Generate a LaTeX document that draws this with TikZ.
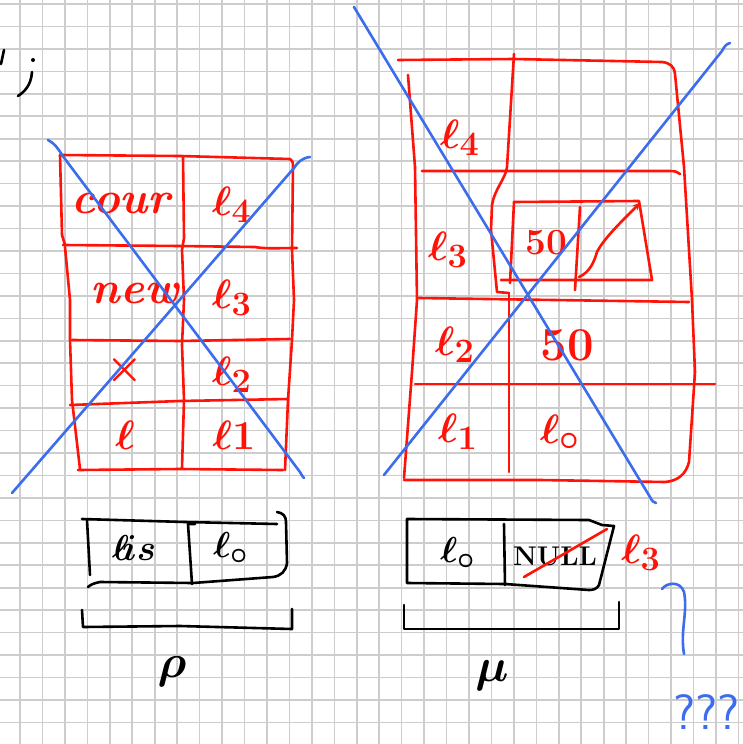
\documentclass[tikz,border=0pt]{standalone}
\usetikzlibrary{arrows.meta}
\definecolor{gridc}{HTML}{CDCDCD}
\definecolor{pred}{HTML}{FF1208}
\definecolor{pblue}{HTML}{3C6DEC}
\tikzset{
 gridline/.style={gridc, line width=1.6pt},
 redink/.style={pred, line width=2.6pt, line cap=round, line join=round},
 blueink/.style={pblue, line width=2.6pt, line cap=round, line join=round},
 blackink/.style={black, line width=2.6pt, line cap=round, line join=round},
 rtxt/.style={text=pred, font=\fontsize{24.88}{27}\selectfont\bfseries\boldmath, inner sep=0pt, scale=1.65},
 ktxt/.style={text=black, font=\fontsize{24.88}{27}\selectfont\bfseries\boldmath, inner sep=0pt, scale=1.45},
 btxt/.style={text=pblue, font=\fontsize{24.88}{27}\selectfont\sffamily, inner sep=0pt, scale=2.0},
}
\begin{document}
\begin{tikzpicture}[x=1pt,y=-1pt]
\useasboundingbox (0,0) rectangle (743,744);
\fill[white] (0,0) rectangle (743,744);
\foreach \i in {0,...,33} \draw[gridline] ({-2.45+22.45*\i},0) -- ++(0,744);
\foreach \j in {0,...,33} \draw[gridline] (0,{4+22.45*\j}) -- ++(743,0);

% top-left code fragment
\draw[blackink] (4,50) -- (1,64);
\fill (33,60) circle (2pt);
\draw[blackink] (32,72) .. controls (31,86) and (24,92) .. (18,96);

% ---------- left table ----------
\draw[redink] (60,155) -- (180,156) -- (290,159) .. controls (292,160) and (293,162) .. (293,166)
  -- (292,250) -- (294,300) -- (292,340) -- (288,400) -- (285,470);
\draw[redink] (60,155) -- (62,235) -- (65,245);
\draw[redink] (63,245) -- (180,246) -- (255,247) .. controls (265,249) and (280,248) .. (297,248);
\draw[redink] (65,247) -- (70,300) -- (70,340) -- (72,400) -- (80,469);
\draw[redink] (72,340) -- (180,341) -- (290,339);
\draw[redink] (70,405) -- (180,401) -- (288,399);
\draw[redink] (78,470) -- (180,469) -- (283,470);
\draw[redink] (183,156) -- (184,238) -- (182,250) -- (184,300) -- (182,345) -- (184,400) -- (182,468);

\node[rtxt, scale=1.1] (cour) at (121,203) {\itshape cour};
\node[rtxt] (la4) at (232,205) {$\ell_4$};
\node[rtxt, scale=1.1] (new) at (135,293) {\itshape new};
\node[rtxt] (la3) at (232,298) {$\ell_3$};
\node[rtxt] (x) at (125,370) {$\times$};
\node[rtxt] (la2) at (232,375) {$\ell_2$};
\node[rtxt] (ll) at (125,435) {$\ell$};
\node[rtxt] (la1) at (234,435) {$\ell1$};

\draw[blueink] (48,140) .. controls (54,143) and (58,148) .. (62,155) -- (300,472) .. controls (302,476) and (304,478) .. (304,478);
\draw[blueink] (310,157) .. controls (302,158) and (298,162) .. (294,168) -- (12,493);

% ---------- right table ----------
\draw[redink] (398,60) -- (514,59) -- (662,62) .. controls (670,63) and (674,66) .. (675,74)
  -- (684,167) -- (692,300) -- (695,372) -- (689,462) .. controls (686,474) and (678,481) .. (665,482)
  -- (540,480) -- (404,480);
\draw[redink] (408,75) -- (415,167) -- (417,300) -- (412,372) -- (404,478);
\draw[redink] (422,171) -- (670,171) .. controls (675,171) and (678,172) .. (680,174);
\draw[redink] (419,298) -- (689,302);
\draw[redink] (415,384) -- (715,384);
\draw[redink] (514,54) -- (507,167) .. controls (506,178) and (494,190) .. (492,205) -- (491,230) -- (497,292) -- (509,293);
\draw[redink] (509,293) -- (509,372) -- (509,472);
% inner record
\draw[redink] (514,202) -- (639,201) -- (652,280) -- (501,280);
\draw[redink] (514,202) -- (510,283);
\draw[redink] (580,207) -- (575,290);
\draw[redink, -{Stealth[length=7pt,width=7pt]}] (579,277) .. controls (590,272) and (594,262) .. (597,252) .. controls (604,238) and (625,218) .. (640,203);

\node[rtxt] (ra4) at (460,138) {$\ell_4$};
\node[rtxt, scale=0.9] (r50a) at (546,243) {50};
\node[rtxt] (ra3) at (448,250) {$\ell_3$};
\node[rtxt] (ra2) at (455,345) {$\ell_2$};
\node[rtxt, scale=1.15] (r50b) at (567,345) {50};
\node[rtxt] (ra1) at (458,432) {$\ell_1$};
\node[rtxt] (ra0) at (560,432) {$\ell_{\circ}$};

\draw[blueink] (354,7) -- (650,497) .. controls (652,501) and (654,503) .. (656,503);
\draw[blueink] (730,43) .. controls (726,44) and (724,47) .. (722,51) -- (384,475);

% ---------- bottom left record ----------
\draw[blackink] (82,519) -- (185,522) -- (277,524);
\draw[blackink] (277,512) .. controls (283,513) and (286,516) .. (286,522) -- (287,563) .. controls (286,571) and (281,576) .. (273,577) -- (193,583) -- (100,582) .. controls (94,583) and (90,585) .. (88,587);
\draw[blackink] (87,520) -- (90,575);
\draw[blackink] (195,524) -- (188,524) -- (192,584);
\node[ktxt] (lis) at (134,548) {$\ell\!is$};
\node[ktxt] (lo1) at (231,548) {$\ell_{\circ}$};
\draw[blackink] (82,610) -- (83,627) -- (180,626) -- (292,629) -- (292,609);
\node[ktxt, scale=1.3] (rho) at (172,672) {$\rho$};

% ---------- bottom right record ----------
\draw[blackink] (407,519) -- (589,520) -- (602,525) -- (614,526) -- (599,585) .. controls (597,589) and (593,590) .. (589,590) -- (505,584) -- (407,583) -- cycle;
\draw[blackink] (504,524) -- (505,585);
\node[ktxt] (lo2) at (458,553) {$\ell_{\circ}$};
\node[ktxt, scale=0.75] (null) at (555,556) {NULL};
\draw[redink] (524,577) -- (607,529);
\node[rtxt] (ra3b) at (641,553) {$\ell_3$};
\draw[blackink] (404,605) -- (404,629) -- (619,629) -- (619,602);
\node[ktxt, scale=1.3] (mu) at (492,676) {$\mu$};

\draw[blueink] (662,589) .. controls (666,583) and (680,580) .. (684,592) .. controls (688,612) and (680,630) .. (684,654);
\node[btxt, anchor=west] (qq) at (673,712) {???};
\end{tikzpicture}
\end{document}
